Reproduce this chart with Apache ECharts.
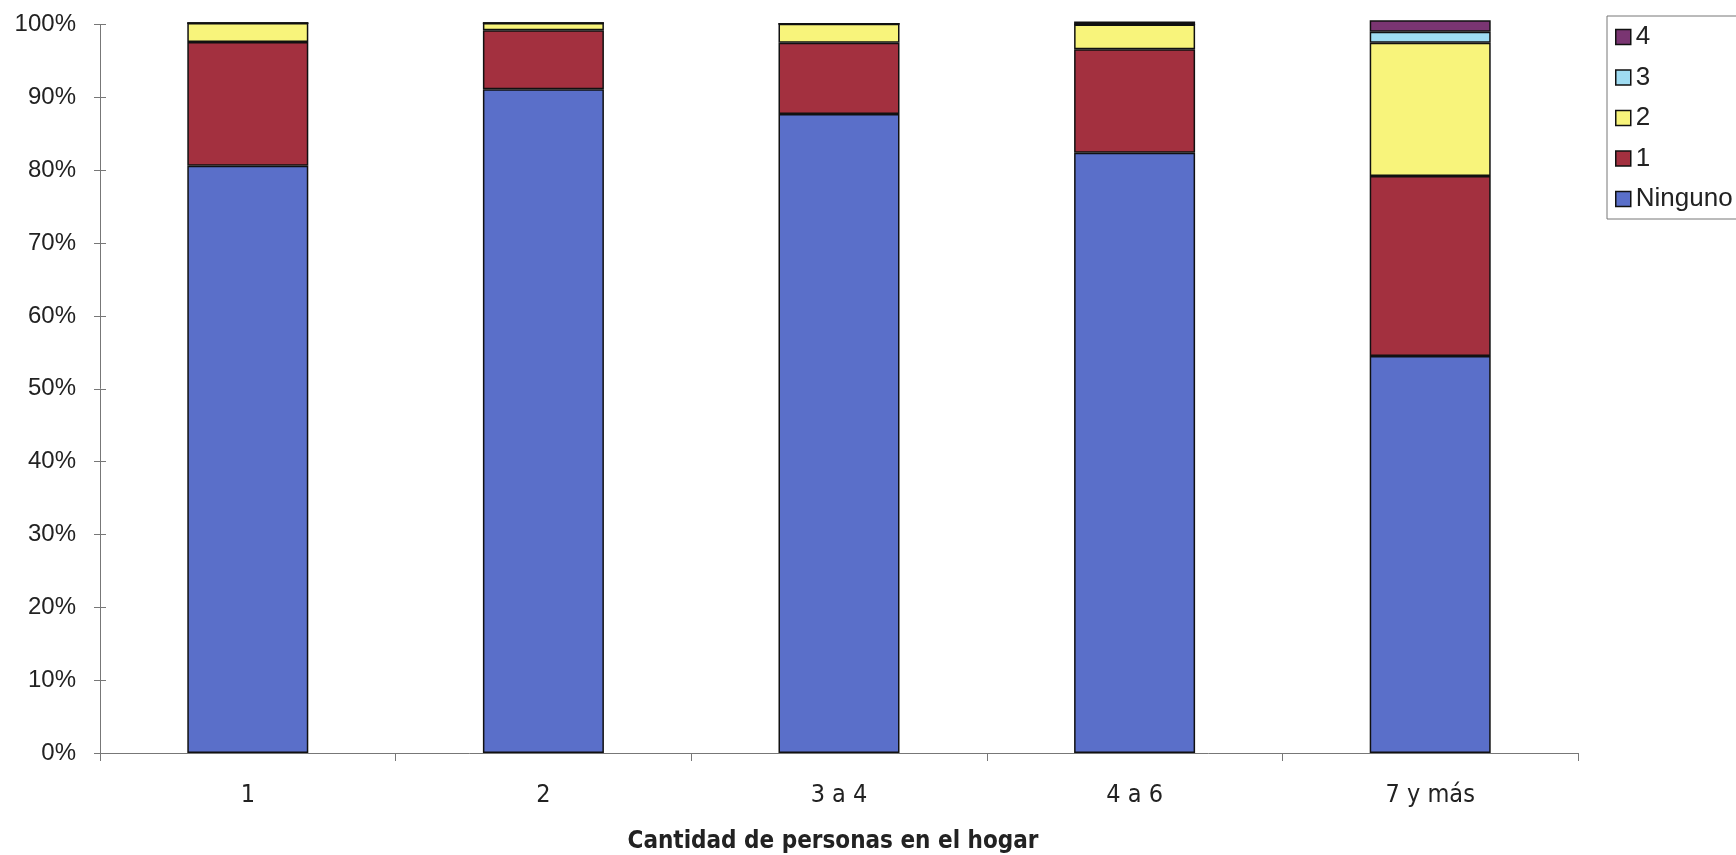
<!DOCTYPE html>
<html>
<head>
<meta charset="utf-8">
<script src="https://cdn.jsdelivr.net/npm/echarts@6/dist/echarts.min.js"></script>
<style>
html,body{margin:0;padding:0;background:#fff;}
#chart{width:1736px;height:855px;}
</style>
</head>
<body>
<div id="chart"></div>
<script>
const categories = ['1', '2', '3 a 4', '4 a 6', '7 y más'];
const ninguno = [80.6, 91.1, 87.7, 82.4, 54.5];
const uno = [17.0, 8.1, 9.8, 14.2, 24.7];
const dos = [2.6, 1.0, 2.6, 3.4, 18.3];
const tres = [0, 0, 0, 0, 1.5];
const cuatro = [0, 0, 0, 0.4, 1.6];
const yTicks = [0, 10, 20, 30, 40, 50, 60, 70, 80, 90, 100];
const xTitle = 'Cantidad de personas en el hogar';

const colors = {
  'Ninguno': '#5a6fc9',
  '1': '#a3303f',
  '2': '#f8f47b',
  '3': '#9fdcf2',
  '4': '#7a3572'
};

function mk(name, data) {
  return {
    name: name,
    type: 'bar',
    stack: 'total',
    data: data,
    barWidth: 121,
    clip: false,
    itemStyle: { color: colors[name], borderColor: '#111', borderWidth: 1.5 },
    emphasis: { disabled: true }
  };
}

const narrow = '"Liberation Sans Narrow", "DejaVu Sans Condensed", "Arial Narrow", sans-serif';

const chart = echarts.init(document.getElementById('chart'), null, { renderer: 'canvas' });
chart.setOption({
  animation: false,
  backgroundColor: '#ffffff',
  grid: { left: 100, right: 158, top: 24.5, bottom: 102, outerBoundsMode: 'none', containLabel: false },
  legend: {
    orient: 'vertical',
    left: 1607,
    top: 16,
    data: ['4', '3', '2', '1', 'Ninguno'],
    icon: 'rect',
    itemWidth: 15,
    itemHeight: 15,
    itemGap: 14.5,
    padding: [8, 8, 7, 8],
    borderColor: '#777',
    borderWidth: 1,
    itemStyle: { borderColor: '#111', borderWidth: 1.5 },
    textStyle: { fontFamily: 'Liberation Sans, Arial, sans-serif', fontSize: 26, color: '#222', lineHeight: 26 }
  },
  xAxis: {
    type: 'category',
    data: categories,
    name: xTitle,
    nameLocation: 'middle',
    nameGap: 77,
    nameTextStyle: { fontFamily: narrow, fontWeight: 'bold', fontSize: 24, color: '#222', padding: [0, 12, 0, 0] },
    axisLine: { lineStyle: { color: '#777', width: 1 } },
    axisTick: { show: true, length: 8, lineStyle: { color: '#777' } },
    axisLabel: { fontFamily: narrow, fontSize: 25, color: '#222', margin: 30 }
  },
  yAxis: [{
    type: 'value',
    min: 0,
    max: 100,
    interval: 10,
    axisLine: { show: true, lineStyle: { color: '#777', width: 1 } },
    axisTick: { show: true, length: 6, lineStyle: { color: '#777' } },
    splitLine: { show: false },
    axisLabel: {
      fontFamily: 'Liberation Sans, Arial, sans-serif', fontSize: 24, color: '#222', margin: 24,
      formatter: function (v) { return yTicks.indexOf(v) >= 0 ? v + '%' : ''; }
    }
  }, {
    type: 'value',
    position: 'left',
    min: 0,
    max: 100,
    interval: 10,
    axisLine: { show: false },
    axisTick: { show: true, inside: true, length: 6, lineStyle: { color: '#777' } },
    splitLine: { show: false },
    axisLabel: { show: false }
  }],
  series: [
    mk('Ninguno', ninguno),
    mk('1', uno),
    mk('2', dos),
    mk('3', tres),
    mk('4', cuatro)
  ]
});
</script>
</body>
</html>
